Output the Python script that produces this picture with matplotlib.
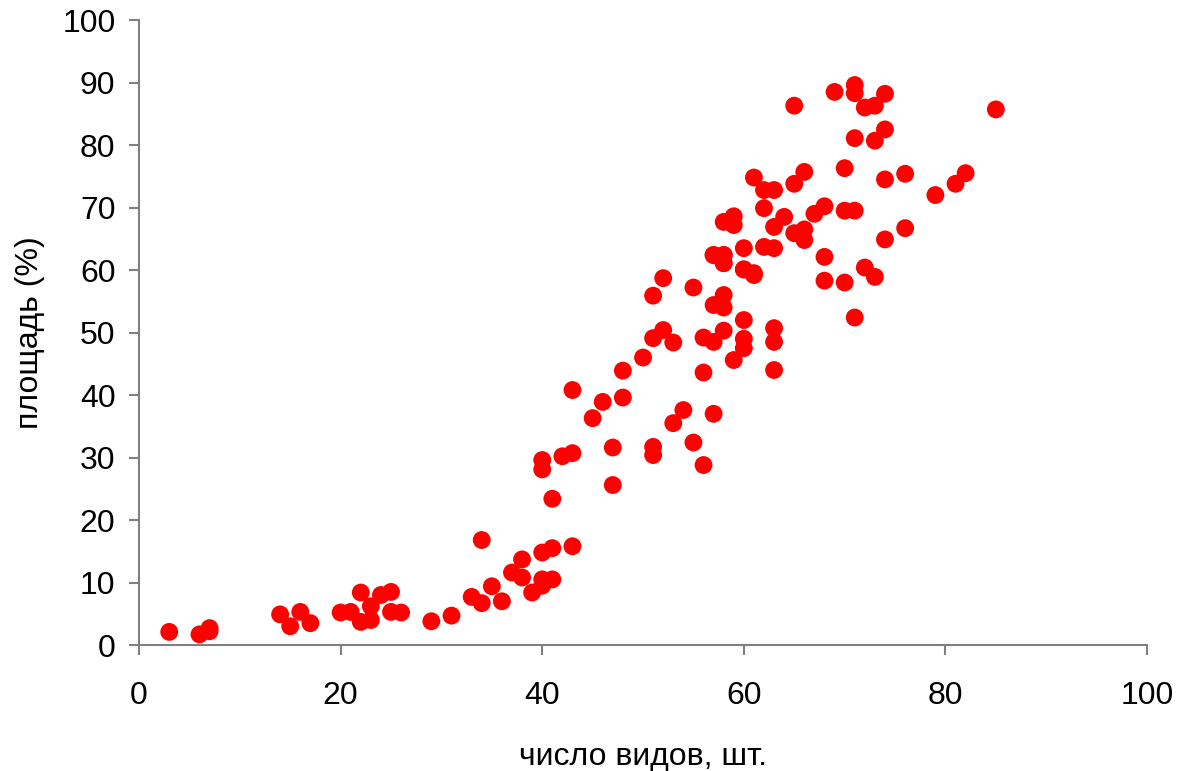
import matplotlib
matplotlib.use('Agg')
import matplotlib.pyplot as plt

# число видов (x) and площадь, % (y)
species = [
    3, 6, 7, 7,
    14, 15, 16, 17, 20, 21, 22, 22, 23, 23, 24, 25, 25, 26, 29, 31,
    33, 34, 34, 35, 36, 37, 38, 38, 39, 40, 41, 43, 40, 41, 40,
    40, 40, 42, 43, 41,
    43, 46, 48, 45, 48, 50, 47, 47, 51, 51, 53, 54, 55, 56, 57,
    51, 52, 52, 55, 51, 53, 56, 57, 58, 59, 56, 58, 57, 58, 60, 60, 60,
    58, 57, 58, 60, 61, 63, 63, 63,
    57, 58, 58, 60, 62, 63, 60, 61, 68, 68, 70, 72, 73, 71,
    59, 58, 59, 62, 63, 64, 65, 66, 66, 67, 68, 70, 71, 74, 76,
    61, 62, 63, 65, 66, 70, 74, 76, 79, 81, 82,
    65, 69, 71, 71, 72, 73, 74, 85, 74, 73, 71,
]
area = [
    2.1, 1.7, 2.7, 2.2,
    4.9, 3.0, 5.3, 3.5, 5.2, 5.3, 8.4, 3.7, 4.0, 6.2, 8.0, 8.5, 5.3, 5.2, 3.8, 4.7,
    7.7, 6.7, 16.8, 9.4, 7.0, 11.6, 13.7, 10.8, 8.4, 14.8, 15.5, 15.8, 10.5, 10.5, 9.5,
    29.6, 28.1, 30.2, 30.7, 23.4,
    40.8, 38.9, 39.6, 36.3, 43.9, 46.0, 31.6, 25.6, 31.7, 30.4, 35.5, 37.6, 32.4, 28.8, 37.0,
    55.9, 58.7, 50.4, 57.2, 49.1, 48.4, 49.2, 48.5, 50.3, 45.6, 43.6, 56.0, 54.4, 54.0, 52.0, 49.0, 47.5,
    61.1, 62.4, 62.4, 63.5, 59.2, 50.7, 48.5, 44.0,
    62.4, 62.4, 61.1, 60.1, 63.7, 63.5, 60.1, 59.5, 62.1, 58.3, 58.0, 60.4, 58.9, 52.4,
    68.6, 67.7, 67.2, 69.9, 66.9, 68.5, 65.9, 64.8, 66.5, 69.0, 70.2, 69.5, 69.5, 64.9, 66.7,
    74.8, 72.8, 72.8, 73.8, 75.7, 76.3, 74.5, 75.4, 72.0, 73.8, 75.5,
    86.3, 88.5, 89.6, 88.3, 86.0, 86.3, 88.2, 85.7, 82.5, 80.7, 81.1,
]

plt.rcParams['font.family'] = ['Liberation Sans', 'DejaVu Sans']

fig = plt.figure(figsize=(11.84, 7.71), dpi=100)
ax = fig.add_axes([0.1174, 0.1634, 0.8514, 0.8106])

ax.scatter(species, area, s=165, color='#ff0000', edgecolors='none', zorder=3)

ax.set_xlim(0, 100)
ax.set_ylim(0, 100)
ax.set_xticks(range(0, 101, 20))
ax.set_yticks(range(0, 101, 10))

for side in ['top', 'right']:
    ax.spines[side].set_visible(False)
for side in ['left', 'bottom']:
    ax.spines[side].set_color('#808080')
    ax.spines[side].set_linewidth(1.5)

ax.tick_params(axis='both', direction='out', length=7, width=1.5, color='#808080',
               labelsize=23, labelcolor='black')
ax.tick_params(axis='x', pad=19)
ax.tick_params(axis='y', pad=10)

ax.set_xlabel('число видов, шт.', fontsize=23, labelpad=22)
ax.set_ylabel('площадь (%)', fontsize=23, labelpad=12)

fig.savefig('out.png', dpi=100)
